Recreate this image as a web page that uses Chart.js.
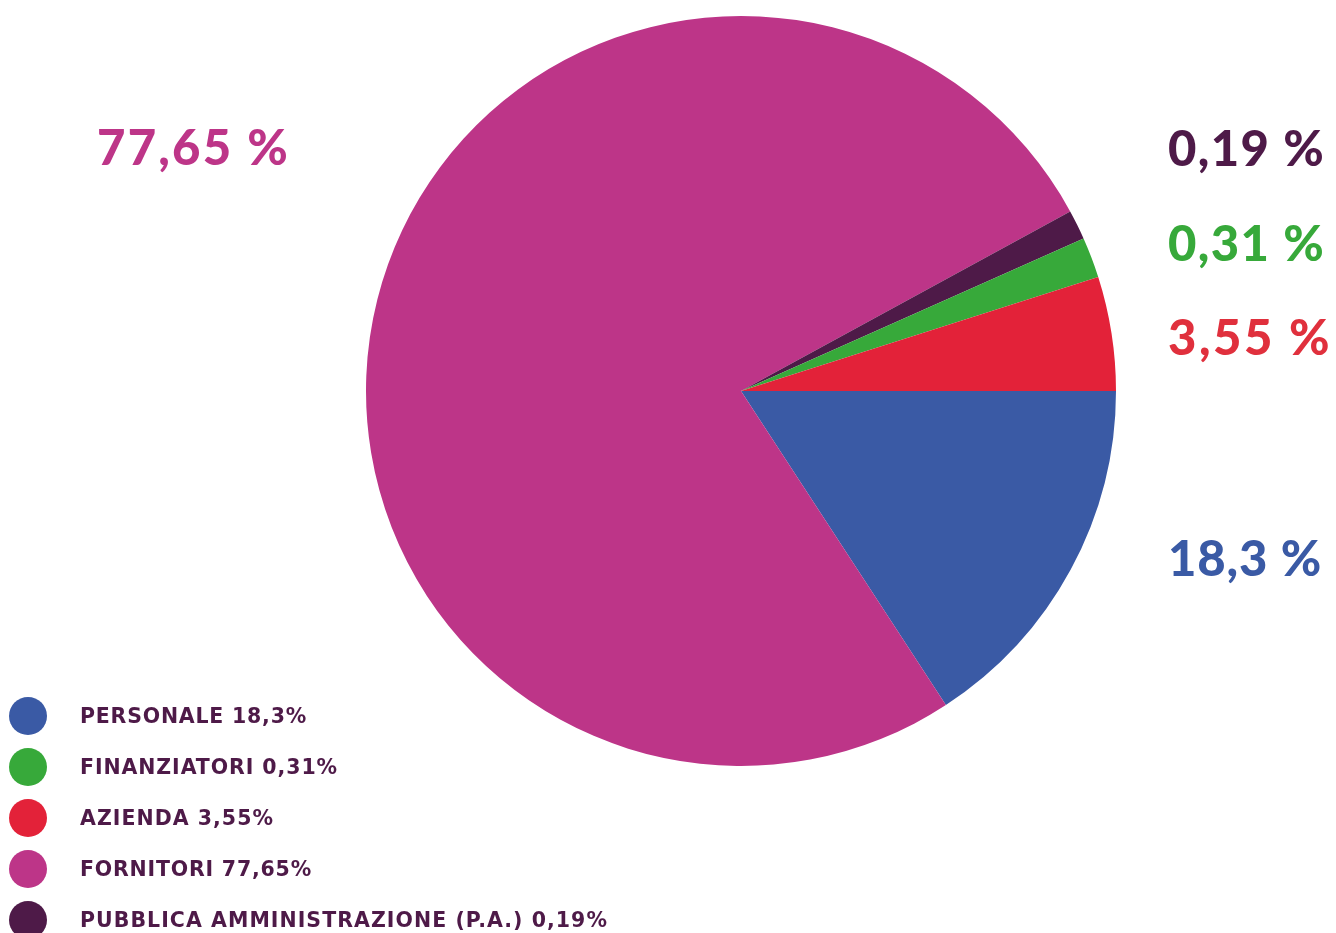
<!DOCTYPE html>
<html>
<head>
<meta charset="utf-8">
<script src="https://cdn.jsdelivr.net/npm/chart.js@4.4.1/dist/chart.umd.min.js"></script>
<style>
  html, body { margin: 0; padding: 0; background: #ffffff; width: 1336px; height: 933px; overflow: hidden; }
  #wrap { position: relative; width: 1336px; height: 933px; }
  #c { position: absolute; left: 0; top: 0; }
  .lbl { position: absolute; font-family: Lato, sans-serif; font-weight: 900; line-height: 1; white-space: nowrap; }
  .leg { position: absolute; font-family: "DejaVu Sans", sans-serif; font-weight: 700; line-height: 1; white-space: nowrap; color: #4e1a48; }
  .dot { position: absolute; border-radius: 50%; }
</style>
</head>
<body>
<div id="wrap">
  <canvas id="c" width="1336" height="933"></canvas>
</div>
<script>
// Slice categories in drawing order (clockwise from 3 o'clock)
const categories = ["Personale", "Fornitori", "Pubblica Amministrazione (P.A.)", "Finanziatori", "Azienda"];
// Slice shares as drawn in the picture (arc, as % of circle)
const sliceShares = [15.8, 76.25, 1.28, 1.75, 4.92];
const sliceColors = ["#3a5aa5", "#bd3588", "#4e1a48", "#37a93a", "#e32239"];

// Percentage labels printed next to the pie
const pctLabels = ["18,3 %", "77,65 %", "0,19 %", "0,31 %", "3,55 %"];
const pctLabelColors = ["#3a5aa5", "#bd3588", "#4e1a48", "#37a93a", "#e0303d"];

// Legend entries (legend order)
const legendLabels = ["PERSONALE 18,3%", "FINANZIATORI 0,31%", "AZIENDA 3,55%", "FORNITORI 77,65%", "PUBBLICA AMMINISTRAZIONE (P.A.) 0,19%"];
const legendColors = ["#3a5aa5", "#37a93a", "#e32239", "#bd3588", "#4e1a48"];

new Chart(document.getElementById('c'), {
  type: 'pie',
  data: {
    labels: categories,
    datasets: [{
      data: sliceShares,
      backgroundColor: sliceColors,
      borderWidth: 0,
      hoverOffset: 0
    }]
  },
  options: {
    responsive: false,
    maintainAspectRatio: false,
    animation: false,
    rotation: 90,
    layout: { padding: { left: 366, top: 16, right: 220, bottom: 167 } },
    plugins: { legend: { display: false }, tooltip: { enabled: false } }
  }
});

const wrap = document.getElementById('wrap');
// label placement: [left, baseline, fontSize, targetWidth]
const pctPos = [
  [1168, 576, 49, 154],
  [97, 165, 49, 193],
  [1168, 166, 49, 157],
  [1168, 261, 49, 157],
  [1168, 355, 49, 164]
];
const ctx = document.createElement('canvas').getContext('2d');
function fit(el, text, font, target) {
  ctx.font = font;
  const w = ctx.measureText(text).width;
  el.style.letterSpacing = ((target - w) / text.length) + 'px';
}
pctLabels.forEach((t, i) => {
  const [x, base, fs, tw] = pctPos[i];
  const d = document.createElement('div');
  d.className = 'lbl';
  d.textContent = t;
  d.style.color = pctLabelColors[i];
  d.style.fontSize = fs + 'px';
  d.style.left = x + 'px';
  d.style.top = (base - fs * 0.887) + 'px';
  fit(d, t, `900 ${fs}px Lato`, tw);
  wrap.appendChild(d);
});

const legBase = [723, 774, 825, 876, 927];
const legWidths = [227, 258, 194, 232, 528];
const legFs = 20.5;
legendLabels.forEach((t, i) => {
  const dot = document.createElement('div');
  dot.className = 'dot';
  dot.style.background = legendColors[i];
  dot.style.width = '38px';
  dot.style.height = '38px';
  dot.style.left = '9px';
  dot.style.top = (legBase[i] - 7 - 19) + 'px';
  wrap.appendChild(dot);
  const d = document.createElement('div');
  d.className = 'leg';
  d.textContent = t;
  d.style.fontSize = legFs + 'px';
  d.style.left = '80px';
  d.style.top = (legBase[i] - legFs * 0.846) + 'px';
  fit(d, t, `700 ${legFs}px "DejaVu Sans"`, legWidths[i]);
  wrap.appendChild(d);
});
</script>
</body>
</html>
